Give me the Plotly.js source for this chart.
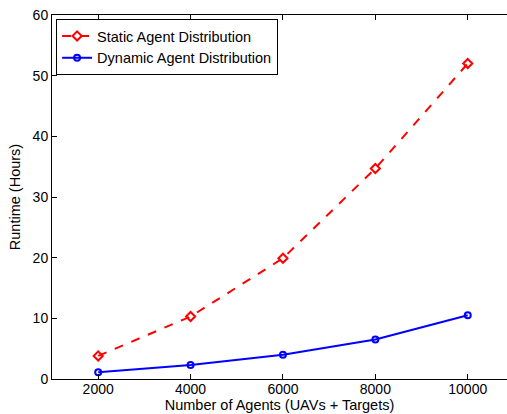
<!DOCTYPE html>
<html>
<head>
<meta charset="utf-8">
<script src="https://cdn.plot.ly/plotly-3.0.1.min.js"></script>
<style>html,body{margin:0;padding:0;background:#fff;}#chart{width:507px;height:414px;}</style>
</head>
<body>
<div id="chart"></div>
<script>
const agents = [2000, 4000, 6000, 8000, 10000];
const staticRuntime = [3.8, 10.3, 19.9, 34.7, 52.0];
const dynamicRuntime = [1.1, 2.3, 4.0, 6.5, 10.5];
const xTicks = [2000, 4000, 6000, 8000, 10000];
const yTicks = [0, 10, 20, 30, 40, 50, 60];

const fam = 'Liberation Sans, Arial, Helvetica, sans-serif';
const fs = 14;

const traces = [
  {x: agents, y: staticRuntime, name: 'Static Agent Distribution', mode: 'lines+markers',
   line: {color: '#ff0000', width: 2, dash: 'dash'},
   marker: {symbol: 'diamond-open', size: 7, color: '#ff0000', line: {width: 2, color: '#ff0000'}}},
  {x: agents, y: dynamicRuntime, name: 'Dynamic Agent Distribution', mode: 'lines+markers',
   line: {color: '#0000ff', width: 2},
   marker: {symbol: 'circle-open', size: 6, color: '#0000ff', line: {width: 2, color: '#0000ff'}}}
];

const layout = {
  width: 507, height: 414,
  margin: {l: 52, r: 0, t: 15, b: 35},
  paper_bgcolor: '#fff', plot_bgcolor: '#fff',
  font: {family: fam, size: fs, color: '#000'},
  showlegend: true,
  legend: {x: 0.009, y: 0.989, xanchor: 'left', yanchor: 'top', bgcolor: '#fff',
           bordercolor: '#000', borderwidth: 1, font: {family: fam, size: 14.5, color: '#000'},
           tracegroupgap: 0, itemwidth: 30},
  xaxis: {range: [1000, 10850], tickvals: xTicks, ticktext: xTicks.map(String),
          showgrid: false, zeroline: false, showline: true, linecolor: '#000', linewidth: 1,
          mirror: 'ticks', ticks: 'inside', ticklen: 5, tickcolor: '#000', ticklabelstandoff: -3,
          tickfont: {family: fam, size: fs},
          title: {text: 'Number of Agents (UAVs + Targets)', standoff: 3, font: {family: fam, size: 14.5}}},
  yaxis: {range: [0, 60], tickvals: yTicks, ticktext: yTicks.map(String),
          showgrid: false, zeroline: false, showline: true, linecolor: '#000', linewidth: 1,
          mirror: false, ticks: 'inside', ticklen: 5, tickcolor: '#000',
          tickfont: {family: fam, size: fs},
          title: {text: 'Runtime (Hours)', standoff: 8, font: {family: fam, size: 14.5}}}
};

Plotly.newPlot('chart', traces, layout, {displayModeBar: false, staticPlot: true});
</script>
</body>
</html>
